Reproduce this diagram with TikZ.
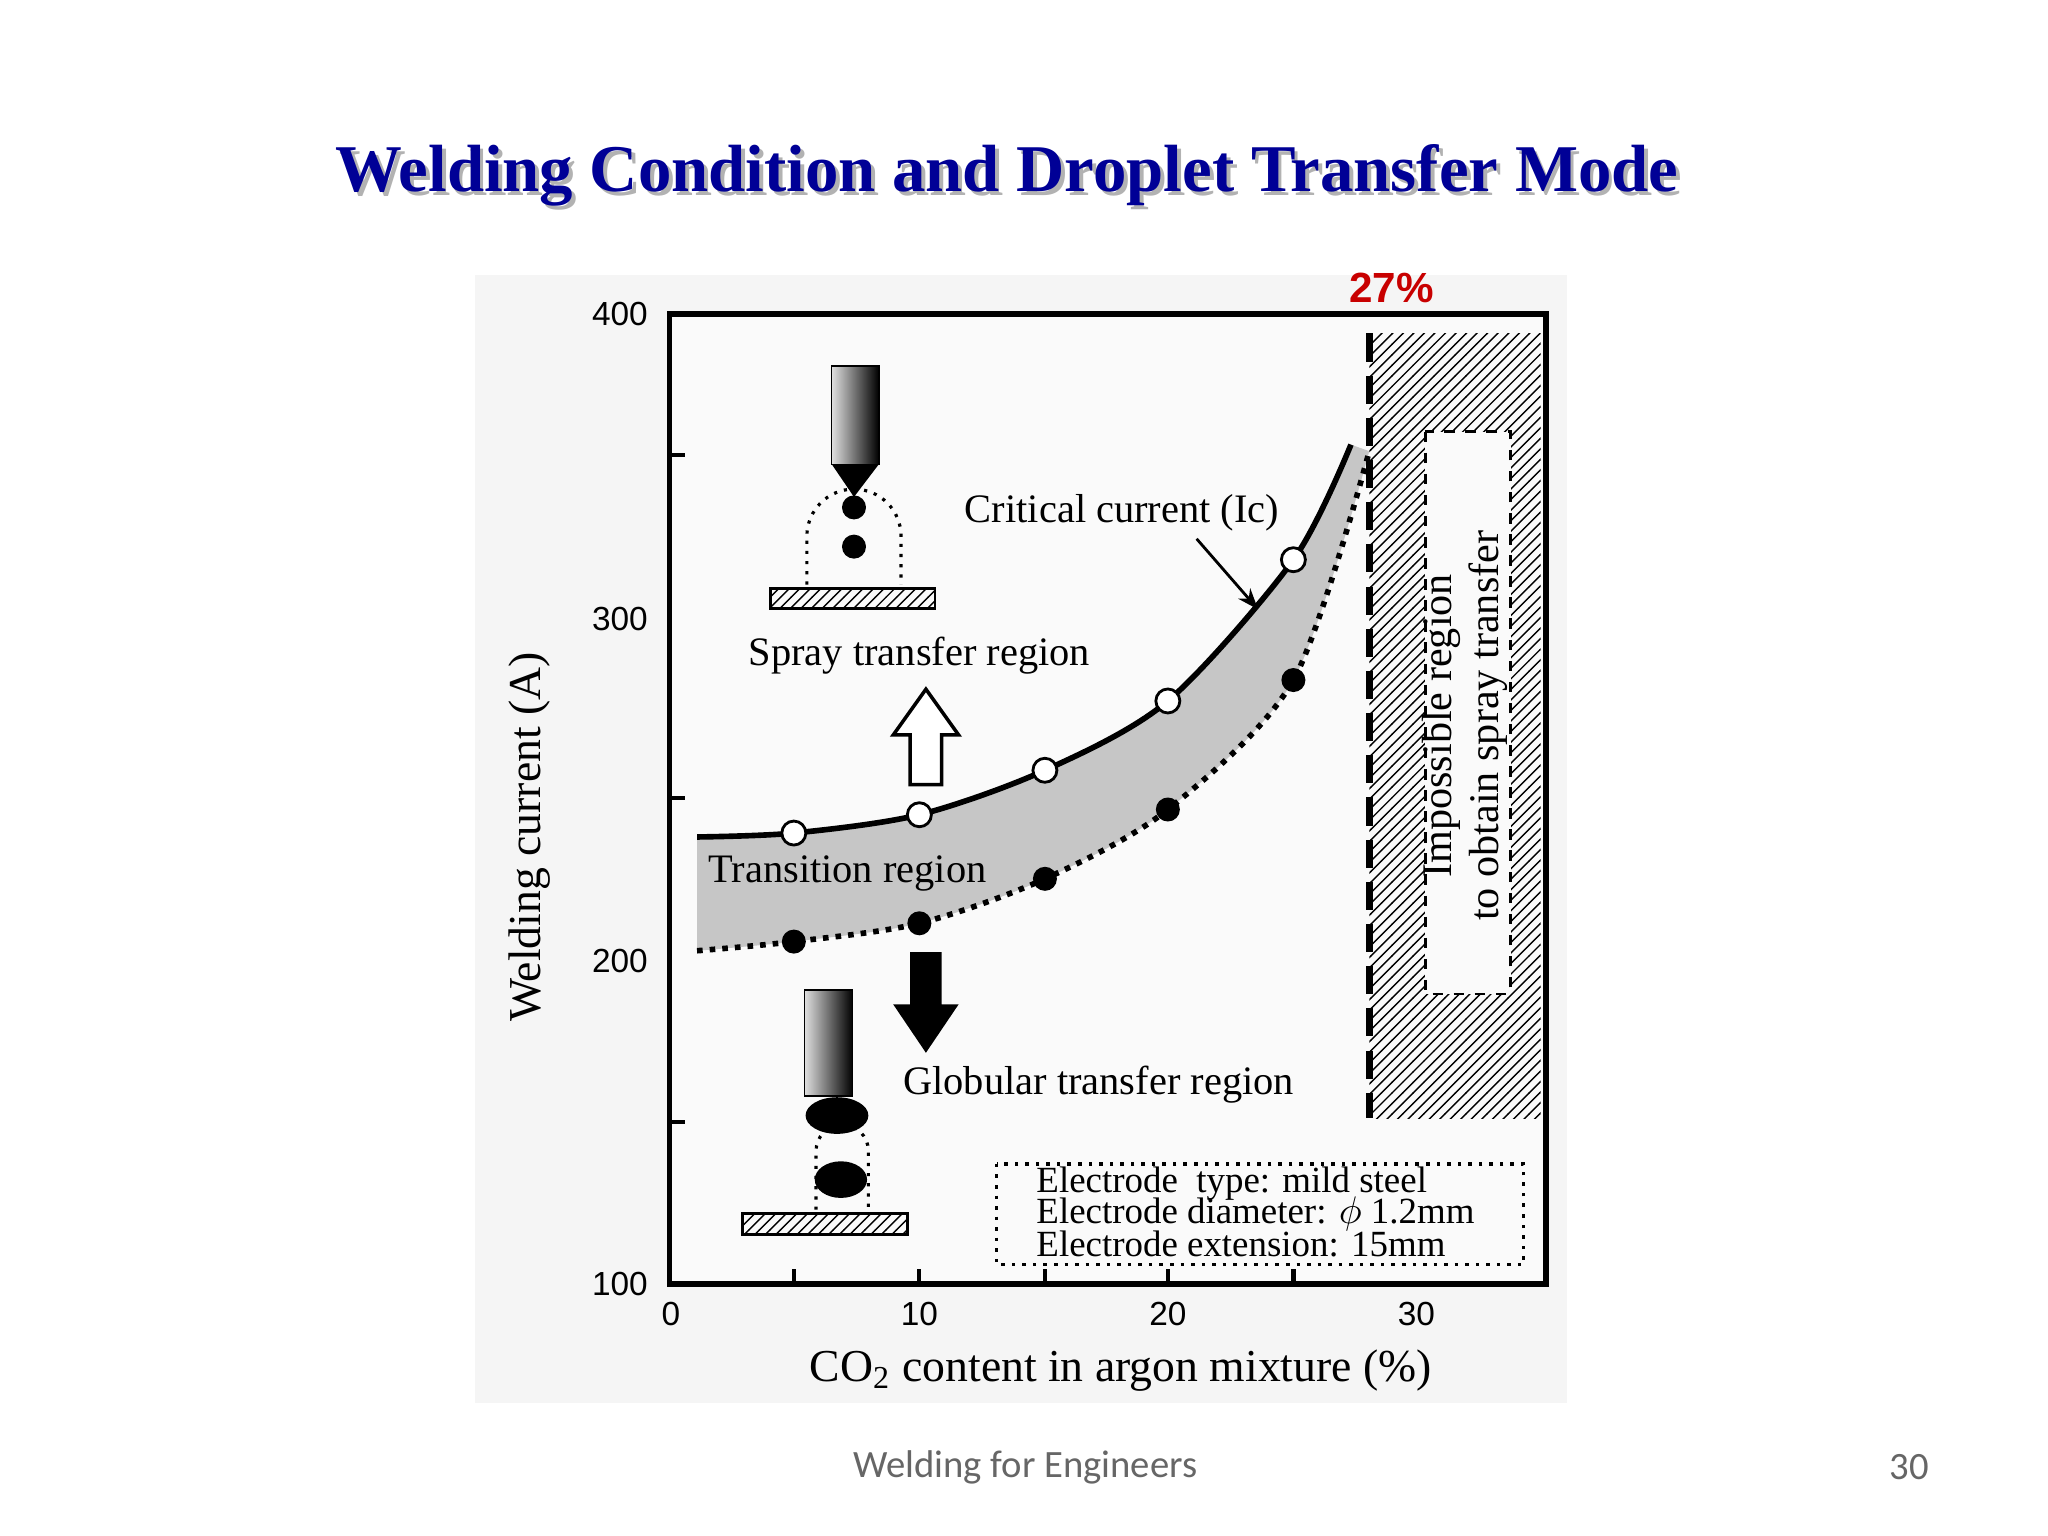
\documentclass[tikz,border=0pt]{standalone}
\usepackage{fontspec}
\setmainfont{Liberation Serif}
\newfontfamily\calfont{Carlito}
\newfontfamily\lsans{Liberation Sans}
\usetikzlibrary{patterns,arrows.meta}
\begin{document}
\begin{tikzpicture}[x=0.013078cm,y=-0.013078cm,
  lbl/.style={font=\fontsize{11.5}{13}\selectfont,inner sep=0pt},
  leglbl/.style={font=\fontsize{10.5}{12}\selectfont,inner sep=0pt,anchor=west},
  tick/.style={font=\lsans\fontsize{9.5}{11}\selectfont,inner sep=0pt},
  opendot/.style={circle,draw,fill=white,line width=0.8pt,minimum size=0.24cm,inner sep=0pt},
  fulldot/.style={circle,fill=black,minimum size=0.24cm,inner sep=0pt},
  plate/.style={draw,line width=0.8pt,pattern=north east lines},
  electrode/.style={left color=gray!25,right color=black,draw=black}]
\useasboundingbox (0,0) rectangle (1566,1174.5);
\fill[white] (0,0) rectangle (1566,1174.5);
% title
\node[text=gray!60,font=\bfseries\fontsize{19}{22}\selectfont] at (773,137) {Welding Condition and Droplet Transfer Mode};
\node (title) [text={rgb,255:red,0;green,0;blue,150},font=\bfseries\fontsize{19}{22}\selectfont] at (770,134) {Welding Condition and Droplet Transfer Mode};
% image background
\fill[gray!8] (363,210) rectangle (1198,1073);
\fill[white!96!gray] (512,240) rectangle (1182,982);
% shaded transition band
\fill[gray!45] plot[smooth] coordinates {(533,640)(607,637)(703,623)(799,589)(893,536)(989,428)(1033,340)}
  -- (1047,345) -- plot[smooth] coordinates {(1047,345)(989,520)(893,619)(799,672)(703,706)(607,720)(533,727)} -- cycle;
\draw[line width=1.6pt] plot[smooth] coordinates {(533,640)(607,637)(703,623)(799,589)(893,536)(989,428)(1033,340)};
\draw[line width=1.6pt,dotted] plot[smooth] coordinates {(533,727)(607,720)(703,706)(799,672)(893,619)(989,520)(1047,345)};
\foreach \x/\y in {607/637,703/623,799/589,893/536,989/428} \node[opendot] at (\x,\y) {};
\foreach \x/\y in {607/720,703/706,799/672,893/619,989/520} \node[fulldot] at (\x,\y) {};
% hatched impossible region
\fill[pattern=north east lines] (1047,255) rectangle (1178,855);
\fill[white!96!gray] (1090,330) rectangle (1155,760);
\draw[line width=0.8pt,dashed] (1090,330) rectangle (1155,760);
\draw[line width=2pt,dash pattern=on 8pt off 4pt] (1047,255) -- (1047,855);
\node (imp) [lbl,rotate=90,align=center,font=\fontsize{12}{13.5}\selectfont] at (1120,555) {Impossible region\\to obtain spray transfer};
% axes
\draw[line width=1.6pt] (512,240) rectangle (1182,982);
\foreach \y in {348,610,858} \draw[line width=1.2pt] (512,\y) -- (524,\y);
\foreach \x in {607,703,799,893,989} \draw[line width=1.2pt] (\x,982) -- (\x,970);
\foreach \y/\t in {240/400,473/300,735/200,982/100} \node[tick] at (474,\y) {\t};
\foreach \x/\t in {513/0,703/10,893/20,1083/30} \node[tick] at (\x,1005) {\t};
\node (yl) [lbl,rotate=90,font=\fontsize{13}{15}\selectfont] at (405,640) {Welding current (A)};
\node (xl) [lbl,font=\fontsize{13}{15}\selectfont] at (857,1048) {CO\textsubscript{2} content in argon mixture (\%)};
\node (p27) [text={rgb,255:red,200;green,0;blue,0},font=\lsans\bfseries\fontsize{12}{14}\selectfont] at (1064,220) {27\%};
% labels
\node (crit) [lbl] at (858,392) {Critical current (Ic)};
\coordinate (critpt) at (962,466);
\draw[-{Stealth[length=6pt]},line width=0.8pt] (915,412) -- (critpt);
\node (spray) [lbl] at (703,501) {Spray transfer region};
\node (trans) [lbl] at (648,668) {Transition region};
\node (glob) [lbl] at (840,829) {Globular transfer region};
\draw[line width=1pt,fill=white] (696,600) -- (720,600) -- (720,562) -- (733,562) -- (708,527) -- (683,562) -- (696,562) -- cycle;
\fill (696,728) -- (720,728) -- (720,768) -- (733,768) -- (708,805) -- (683,768) -- (696,768) -- cycle;
% top electrode
\draw[line width=0.9pt,dotted] (617,447) -- (617,410) arc (180:360:36) -- (689,447);
\shade[electrode] (636,280) rectangle (672,355);
\fill (636,355) -- (672,355) -- (653,380) -- cycle;
\node[fulldot] at (653,388) {};
\node[fulldot] at (653,418) {};
\draw[plate] (589,450) rectangle (715,465);
% bottom electrode
\draw[line width=0.9pt,dotted] (624,925) -- (624,880) arc (180:360:20) -- (664,925);
\shade[electrode] (615,757) rectangle (652,838);
\fill (640,853) ellipse (24 and 14);
\fill (643,902) ellipse (20 and 14);
\draw[plate] (568,928) rectangle (694,944);
% legend
\draw[line width=1pt,dotted] (762,890) rectangle (1165,967);
\node (leg1) [leglbl] at (792,905) {Electrode\ \ type: mild steel};
\node (leg2) [leglbl] at (792,928) {Electrode diameter: $\phi$ 1.2mm};
\node (leg3) [leglbl] at (792,951) {Electrode extension: 15mm};
% footer
\node (foot) [text=gray!80!black,font=\calfont\fontsize{11}{13}\selectfont] at (784,1122) {Welding for Engineers};
\node (pg) [text=gray!80!black,font=\calfont\fontsize{11}{13}\selectfont] at (1460,1122) {30};
\end{tikzpicture}
\end{document}
